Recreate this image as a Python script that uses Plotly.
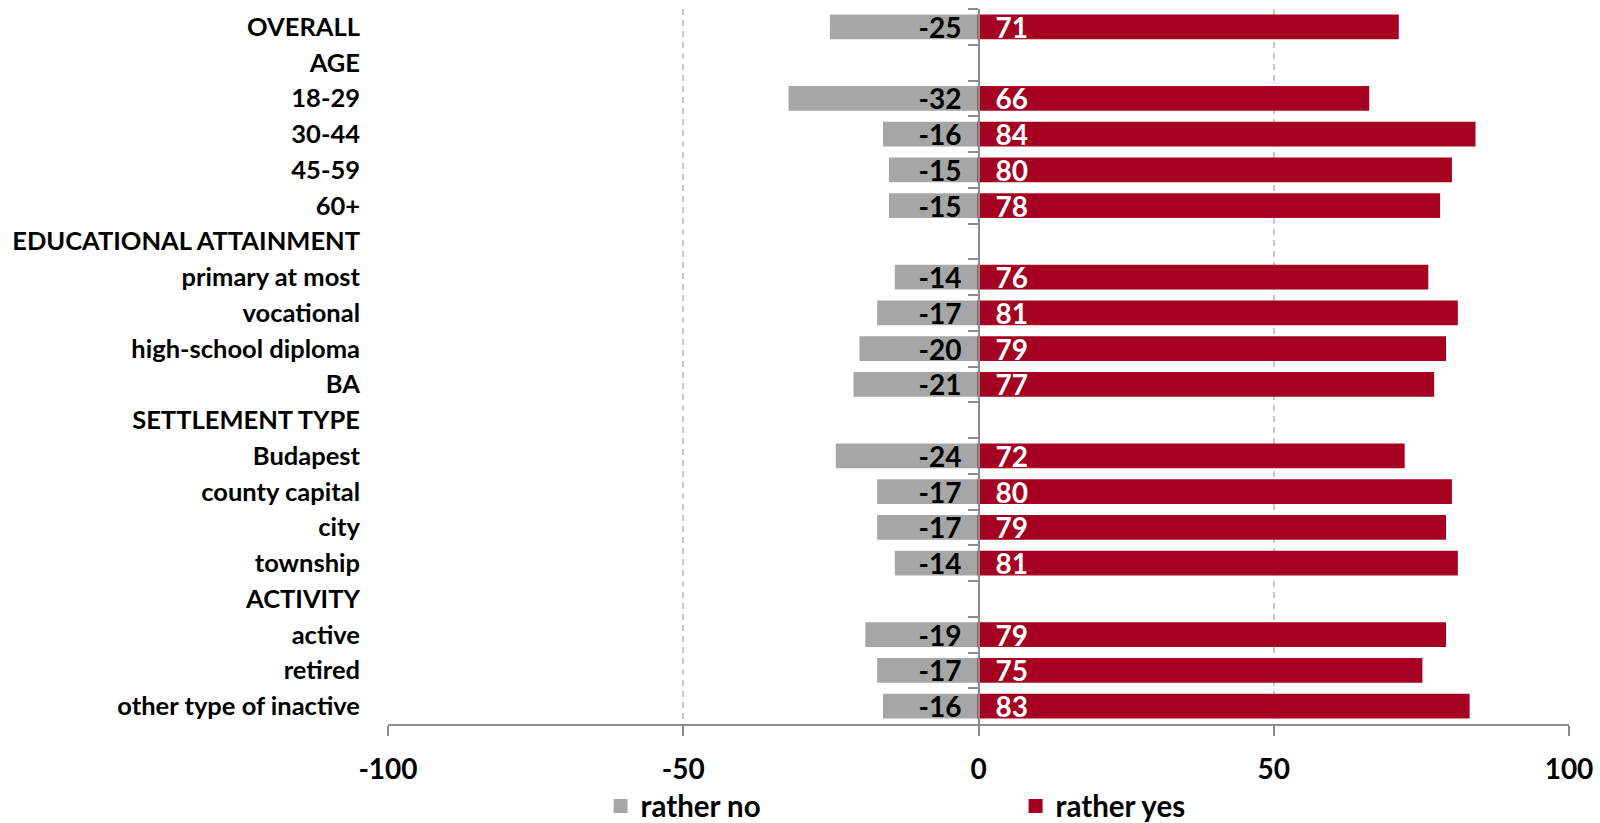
import plotly.graph_objects as go

categories = ["OVERALL", "AGE", "18-29", "30-44", "45-59", "60+",
              "EDUCATIONAL ATTAINMENT", "primary at most", "vocational",
              "high-school diploma", "BA", "SETTLEMENT TYPE", "Budapest",
              "county capital", "city", "township", "ACTIVITY", "active",
              "retired", "other type of inactive"]
rather_no = [-25, None, -32, -16, -15, -15, None, -14, -17, -20, -21, None,
             -24, -17, -17, -14, None, -19, -17, -16]
rather_yes = [71, None, 66, 84, 80, 78, None, 76, 81, 79, 77, None,
              72, 80, 79, 81, None, 79, 75, 83]
x_ticks = [-100, -50, 0, 50, 100]

FONT = "Lato"
GRAY = "#a6a6a6"
RED = "#a50021"
AXIS = "#8c8c8c"

x_range = [-100, 100]
zero_pos = (0 - x_range[0]) / (x_range[1] - x_range[0])
n = len(categories)


def lab(v, pre="", post=""):
    return "" if v is None else f"{pre}{v}{post}"


no_text = [lab(v, post="\u2002") for v in rather_no]
yes_text = [lab(v, pre="\u2002") for v in rather_yes]

fig = go.Figure()
fig.add_trace(go.Bar(
    y=categories, x=rather_no, orientation="h", name="rather no",
    marker=dict(color=GRAY, line=dict(color=GRAY, width=2)),
    text=no_text, texttemplate="%{text}", textposition="inside",
    insidetextanchor="start", constraintext="none", textangle=0,
    textfont=dict(family=FONT, size=28, color="black", weight="bold"),
    yaxis="y", cliponaxis=False,
))
fig.add_trace(go.Bar(
    y=categories, x=rather_yes, orientation="h", name="rather yes",
    marker=dict(color=RED, line=dict(color=RED, width=2)),
    text=yes_text, texttemplate="%{text}", textposition="inside",
    insidetextanchor="start", constraintext="none", textangle=0,
    textfont=dict(family=FONT, size=28, color="white", weight="bold"),
    yaxis="y2", cliponaxis=False,
))

fig.update_layout(
    width=1600, height=823,
    margin=dict(l=388, r=31, t=9, b=99, autoexpand=False),
    paper_bgcolor="white", plot_bgcolor="white",
    barmode="overlay", bargap=0.36,
    font=dict(family=FONT, size=26, color="black", weight="bold"),
    xaxis=dict(
        range=x_range, tickvals=x_ticks, ticktext=[str(v) for v in x_ticks],
        showline=True, linecolor=AXIS, linewidth=1.5,
        ticks="outside", ticklen=10, tickcolor=AXIS, tickwidth=1.5,
        showgrid=True, gridcolor="#c8c8c8", gridwidth=1.5, griddash="6px,5px",
        zeroline=False, ticklabelstandoff=10, automargin=False,
        tickfont=dict(family=FONT, size=28, color="black", weight="bold"),
        domain=[0, 1],
    ),
    yaxis=dict(
        categoryorder="array", categoryarray=categories,
        range=[n - 0.5, -0.5], showgrid=False, zeroline=False,
        ticks="", showline=False, ticklabelstandoff=27, automargin=False,
        tickfont=dict(family=FONT, size=25.5, color="black", weight="bold"),
    ),
    yaxis2=dict(
        categoryorder="array", categoryarray=categories,
        range=[n - 0.5, -0.5], overlaying="y", anchor="free",
        position=zero_pos, side="left", showticklabels=False,
        showline=True, linecolor=AXIS, linewidth=1.5, automargin=False,
        ticks="outside", tickson="boundaries", ticklen=10,
        tickcolor=AXIS, tickwidth=1.5, showgrid=False, zeroline=False,
    ),
    legend=dict(
        orientation="h", x=0.18, xanchor="left", y=-0.115, yanchor="middle",
        font=dict(family=FONT, size=29.5, color="black", weight="bold"),
        entrywidth=370, entrywidthmode="pixels", traceorder="normal",
        bgcolor="rgba(0,0,0,0)",
    ),
    showlegend=True,
)

fig.write_html("out.html",
               config={"displayModeBar": False},
               post_script="document.body.style.margin='0px';"
                           "document.body.style.overflow='hidden';")
